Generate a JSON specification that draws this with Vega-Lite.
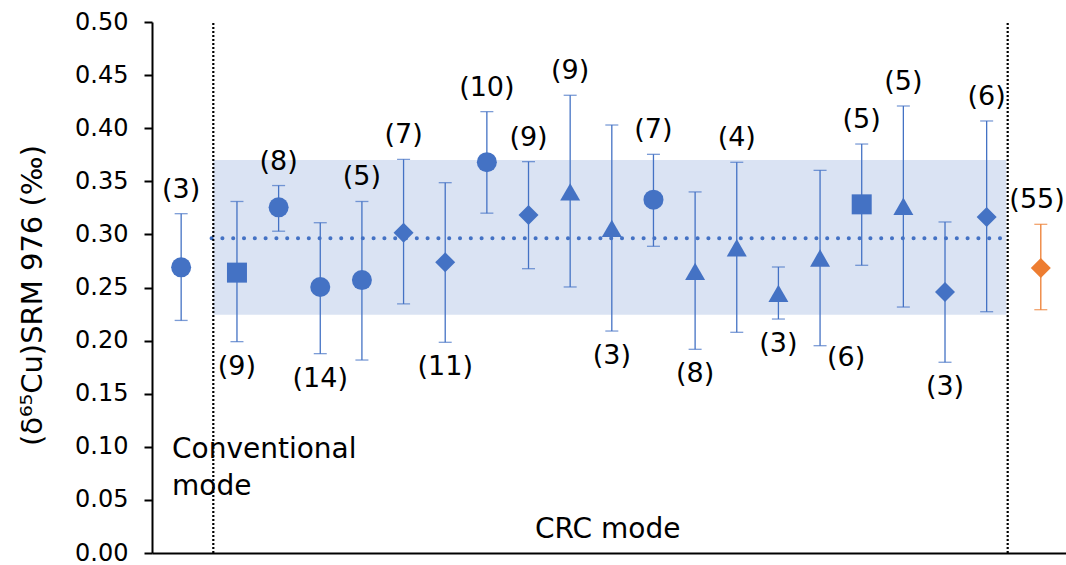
{
  "$schema": "https://vega.github.io/schema/vega-lite/v6.json",
  "width": 914,
  "height": 531,
  "autosize": {"type": "none"},
  "padding": {"left": 152, "top": 22, "right": 0, "bottom": 12},
  "background": "white",
  "config": {"view": {"stroke": null}, "font": "DejaVu Sans"},
  "datasets": {
    "points": [
      {"x": 0.66, "y": 0.269, "lo": 0.219, "hi": 0.3195, "shape": "circle", "series": "sample", "n": "(3)", "side": "above"},
      {"x": 2, "y": 0.264, "lo": 0.199, "hi": 0.331, "shape": "square", "series": "sample", "n": "(9)", "side": "below"},
      {"x": 3, "y": 0.3255, "lo": 0.303, "hi": 0.346, "shape": "circle", "series": "sample", "n": "(8)", "side": "above"},
      {"x": 4, "y": 0.2505, "lo": 0.1877, "hi": 0.311, "shape": "circle", "series": "sample", "n": "(14)", "side": "below"},
      {"x": 5, "y": 0.257, "lo": 0.1817, "hi": 0.331, "shape": "circle", "series": "sample", "n": "(5)", "side": "above"},
      {"x": 6, "y": 0.3016, "lo": 0.2345, "hi": 0.3707, "shape": "diamond", "series": "sample", "n": "(7)", "side": "above"},
      {"x": 7, "y": 0.2737, "lo": 0.1984, "hi": 0.3487, "shape": "diamond", "series": "sample", "n": "(11)", "side": "below"},
      {"x": 8, "y": 0.368, "lo": 0.32, "hi": 0.4156, "shape": "circle", "series": "sample", "n": "(10)", "side": "above"},
      {"x": 9, "y": 0.3183, "lo": 0.2677, "hi": 0.3685, "shape": "diamond", "series": "sample", "n": "(9)", "side": "above"},
      {"x": 10, "y": 0.34, "lo": 0.2505, "hi": 0.431, "shape": "triangle", "series": "sample", "n": "(9)", "side": "above"},
      {"x": 11, "y": 0.3057, "lo": 0.209, "hi": 0.403, "shape": "triangle", "series": "sample", "n": "(3)", "side": "below"},
      {"x": 12, "y": 0.3327, "lo": 0.2888, "hi": 0.3754, "shape": "circle", "series": "sample", "n": "(7)", "side": "above"},
      {"x": 13, "y": 0.2652, "lo": 0.1918, "hi": 0.34, "shape": "triangle", "series": "sample", "n": "(8)", "side": "below"},
      {"x": 14, "y": 0.2874, "lo": 0.2078, "hi": 0.3679, "shape": "triangle", "series": "sample", "n": "(4)", "side": "above"},
      {"x": 15, "y": 0.2445, "lo": 0.2203, "hi": 0.2693, "shape": "triangle", "series": "sample", "n": "(3)", "side": "below"},
      {"x": 16, "y": 0.2778, "lo": 0.1952, "hi": 0.3603, "shape": "triangle", "series": "sample", "n": "(6)", "side": "belowright"},
      {"x": 17, "y": 0.3283, "lo": 0.2709, "hi": 0.3851, "shape": "square", "series": "sample", "n": "(5)", "side": "above"},
      {"x": 18, "y": 0.3265, "lo": 0.2316, "hi": 0.4209, "shape": "triangle", "series": "sample", "n": "(5)", "side": "above"},
      {"x": 19, "y": 0.2458, "lo": 0.1796, "hi": 0.3117, "shape": "diamond", "series": "sample", "n": "(3)", "side": "below"},
      {"x": 20, "y": 0.3164, "lo": 0.2272, "hi": 0.4068, "shape": "diamond", "series": "sample", "n": "(6)", "side": "above"},
      {"x": 21.3, "y": 0.2684, "lo": 0.2291, "hi": 0.3095, "shape": "diamond", "series": "reference", "n": "(55)", "side": "aboveedge"}
    ],
    "band": [{"x1": 1.432, "x2": 20.47, "y1": 0.2244, "y2": 0.37}],
    "mean": [{"x1": 1.39, "x2": 20.46, "y": 0.2963}],
    "dividers": [{"x": 1.432, "y1": 0, "y2": 0.5}, {"x": 20.505, "y1": 0, "y2": 0.5}],
    "notes": [
      {"x": 0.44, "y": 0.0897, "text": "Conventional", "kind": "left"},
      {"x": 0.44, "y": 0.0546, "text": "mode", "kind": "left"},
      {"x": 10.9, "y": 0.0144, "text": "CRC mode", "kind": "center"}
    ]
  },
  "encoding": {
    "x": {"type": "quantitative", "scale": {"domain": [-0.04, 21.905], "nice": false, "zero": false},
      "axis": {"title": null, "labels": false, "ticks": false, "grid": false, "domainColor": "black", "domainWidth": 2}},
    "y": {"type": "quantitative", "scale": {"domain": [0, 0.5], "nice": false},
      "axis": {"title": "(δ⁶⁵Cu)SRM 976 (‰)", "values": [0, 0.05, 0.1, 0.15, 0.2, 0.25, 0.3, 0.35, 0.4, 0.45, 0.5], "format": ".2f",
        "labelFontSize": 24, "labelColor": "black", "labelPadding": 16, "labelFlush": false, "tickSize": 8, "tickWidth": 2, "tickColor": "black",
        "domainColor": "black", "domainWidth": 2, "grid": false, "titleFontSize": 29, "titleFontWeight": "normal", "titleColor": "black",
        "titleX": -105, "titleY": 273, "titleAngle": 270, "titleAlign": "center", "titleBaseline": "bottom"}}
  },
  "layer": [
    {
      "data": {"name": "band"},
      "mark": {"type": "rect", "color": "#DAE3F3"},
      "encoding": {
        "x": {"field": "x1"},
        "x2": {"field": "x2"},
        "y": {"field": "y1"},
        "y2": {"field": "y2"}
      }
    },
    {
      "data": {"name": "mean"},
      "mark": {"type": "rule", "color": "#4472C4", "strokeWidth": 4, "strokeDash": [0.1, 10.7], "strokeCap": "round"},
      "encoding": {
        "x": {"field": "x1"},
        "x2": {"field": "x2"},
        "y": {"field": "y"}
      }
    },
    {
      "data": {"name": "dividers"},
      "mark": {"type": "rule", "color": "black", "strokeWidth": 2.2, "strokeDash": [2, 2]},
      "encoding": {
        "x": {"field": "x"},
        "y": {"field": "y1"},
        "y2": {"field": "y2"}
      }
    },
    {
      "data": {"name": "points"},
      "mark": {"type": "rule", "strokeWidth": 1.3},
      "encoding": {
        "x": {"field": "x"},
        "y": {"field": "lo"},
        "y2": {"field": "hi"},
        "color": {"field": "series", "type": "nominal", "scale": {"domain": ["sample", "reference"], "range": ["#4472C4", "#ED7D31"]}, "legend": null}
      }
    },
    {
      "data": {"name": "points"},
      "mark": {"type": "tick", "orient": "horizontal", "size": 13, "thickness": 1.3},
      "encoding": {
        "x": {"field": "x"},
        "y": {"field": "lo"},
        "color": {"field": "series", "type": "nominal", "legend": null}
      }
    },
    {
      "data": {"name": "points"},
      "mark": {"type": "tick", "orient": "horizontal", "size": 13, "thickness": 1.3},
      "encoding": {
        "x": {"field": "x"},
        "y": {"field": "hi"},
        "color": {"field": "series", "type": "nominal", "legend": null}
      }
    },
    {
      "data": {"name": "points"},
      "mark": {"type": "point", "filled": true, "opacity": 1, "strokeWidth": 0},
      "encoding": {
        "x": {"field": "x"},
        "y": {"field": "y"},
        "color": {"field": "series", "type": "nominal", "legend": null},
        "shape": {"field": "shape", "type": "nominal", "scale": {"domain": ["circle", "square", "diamond", "triangle"], "range": ["circle", "square", "diamond", "triangle-up"]}, "legend": null},
        "size": {"field": "shape", "type": "ordinal", "scale": {"domain": ["circle", "square", "diamond", "triangle"], "range": [400, 400, 529, 560]}, "legend": null}
      }
    },
    {
      "data": {"name": "points"},
      "transform": [{"filter": "datum.side == 'above'"}],
      "mark": {"type": "text", "fontSize": 27, "color": "black", "baseline": "middle", "align": "center", "dy": -24},
      "encoding": {
        "x": {"field": "x"},
        "y": {"field": "hi"},
        "text": {"field": "n"}
      }
    },
    {
      "data": {"name": "points"},
      "transform": [{"filter": "datum.side == 'aboveedge'"}],
      "mark": {"type": "text", "fontSize": 27, "color": "black", "baseline": "middle", "align": "right", "dx": 24, "dy": -24},
      "encoding": {
        "x": {"field": "x"},
        "y": {"field": "hi"},
        "text": {"field": "n"}
      }
    },
    {
      "data": {"name": "points"},
      "transform": [{"filter": "datum.side == 'below'"}],
      "mark": {"type": "text", "fontSize": 27, "color": "black", "baseline": "middle", "align": "center", "dy": 25},
      "encoding": {
        "x": {"field": "x"},
        "y": {"field": "lo"},
        "text": {"field": "n"}
      }
    },
    {
      "data": {"name": "points"},
      "transform": [{"filter": "datum.side == 'belowright'"}],
      "mark": {"type": "text", "fontSize": 27, "color": "black", "baseline": "middle", "align": "left", "dx": 7, "dy": 12},
      "encoding": {
        "x": {"field": "x"},
        "y": {"field": "lo"},
        "text": {"field": "n"}
      }
    },
    {
      "data": {"name": "notes"},
      "transform": [{"filter": "datum.kind == 'left'"}],
      "mark": {"type": "text", "fontSize": 28, "color": "black", "baseline": "alphabetic", "align": "left"},
      "encoding": {
        "x": {"field": "x"},
        "y": {"field": "y"},
        "text": {"field": "text"}
      }
    },
    {
      "data": {"name": "notes"},
      "transform": [{"filter": "datum.kind == 'center'"}],
      "mark": {"type": "text", "fontSize": 28, "color": "black", "baseline": "alphabetic", "align": "center"},
      "encoding": {
        "x": {"field": "x"},
        "y": {"field": "y"},
        "text": {"field": "text"}
      }
    }
  ]
}
